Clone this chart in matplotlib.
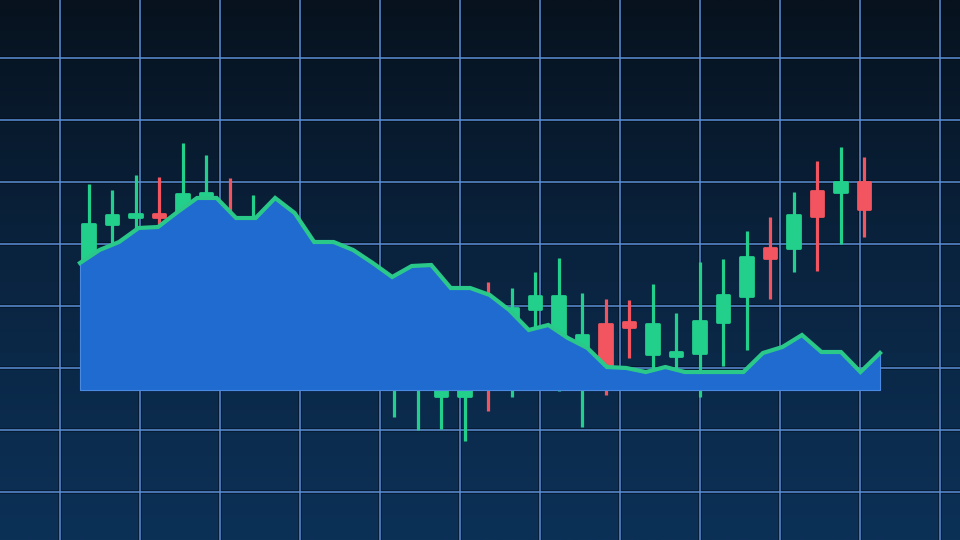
import matplotlib
matplotlib.use('Agg')
import matplotlib.pyplot as plt
import numpy as np
from matplotlib.colors import LinearSegmentedColormap

# Candles (price units), one per session
opens = [37.1, 43.2, 44.35, 44.84, 44.68, 47.42, 43.5, 41.0, 42.5, 41.0,
         37.5, 34.0, 33.0, 24.0, 20.0, 15.48, 15.48, 28.0, 26.0, 29.52,
         25.32, 22.9, 27.1, 27.42, 22.26, 21.94, 22.42, 27.42, 31.61, 39.35,
         39.35, 48.55, 48.39, 50.0]
closes = [43.23, 44.68, 44.84, 44.35, 48.06, 48.23, 41.0, 42.9, 44.0, 39.5,
          36.0, 36.5, 31.0, 28.0, 26.0, 22.0, 24.0, 22.0, 29.68, 31.61,
          31.61, 25.32, 20.16, 26.61, 27.1, 22.58, 27.58, 31.77, 37.9, 37.74,
          44.68, 44.52, 50.0, 45.65]
highs = [49.68, 48.71, 51.13, 50.81, 56.29, 54.35, 50.65, 47.9, 46.0, 43.0,
         39.5, 37.5, 35.5, 32.0, 31.0, 29.0, 30.0, 33.87, 32.9, 35.48,
         37.74, 32.1, 31.13, 30.97, 33.55, 28.87, 37.1, 37.58, 42.1, 44.35,
         48.39, 53.39, 55.65, 54.03]
lows = [36.13, 39.35, 41.9, 42.0, 41.0, 45.5, 38.5, 39.5, 39.0, 37.5,
        34.0, 31.0, 28.0, 12.1, 10.0, 10.16, 8.23, 13.06, 15.32, 24.0,
        16.29, 10.48, 15.65, 21.61, 19.0, 19.5, 15.32, 20.32, 22.9, 31.13,
        35.48, 35.65, 40.0, 41.13]

# Area / line series
area_vals = [36.94, 39.03, 40.32, 42.58, 42.74, 45.16, 47.42, 47.42, 44.19, 44.19,
             47.42, 45.0, 40.32, 40.32, 39.03, 36.94, 34.68, 36.45, 36.61, 32.9,
             32.9, 31.77, 29.35, 26.13, 26.94, 24.84, 23.23, 20.16, 20.0, 19.35,
             20.16, 19.35, 19.35, 19.35, 19.35, 22.42, 23.39, 25.32, 22.58, 22.58,
             19.35, 22.42]
area_base = 16.45

GREEN = '#22d08c'
RED = '#f2555f'
FILL = '#1f6bd0'
LINE = '#2ac98a'
GRID = '#5b90d8'

fig = plt.figure(figsize=(9.6, 5.4), dpi=100)
ax = fig.add_axes([0, 0, 1, 1])

# axis layout: candle i sits at index i
ax.set_xlim(-3.766, 37.085)
ax.set_ylim(-7.74, 79.35)

# background gradient
cmap = LinearSegmentedColormap.from_list('bg', ['#0c3157', '#0a2440', '#07121e'])
grad = np.linspace(0, 1, 256).reshape(-1, 1)
ax.imshow(grad, cmap=cmap, aspect='auto', extent=[0, 1, 0, 1],
          transform=ax.transAxes, origin='lower', zorder=0)

# grid
gx = -1.2128 + 3.4043 * np.arange(12)
gy = np.arange(0, 80, 10)
for x in gx:
    ax.axvline(x, color='#02060c', lw=2.6, alpha=0.5, zorder=1)
    ax.axvline(x, color=GRID, lw=1.1, zorder=1.1)
for y in gy:
    ax.axhline(y, color='#02060c', lw=2.6, alpha=0.5, zorder=1)
    ax.axhline(y, color=GRID, lw=1.1, zorder=1.1)

# candlesticks
idx = np.arange(len(opens))
for i in idx:
    up = closes[i] >= opens[i]
    c = GREEN if up else RED
    ax.vlines(i, lows[i], highs[i], color=c, lw=2.3, zorder=2)
    bot = min(opens[i], closes[i])
    h = max(abs(closes[i] - opens[i]), 0.45)
    ax.bar(i, h, bottom=bot, width=0.52, color=c, edgecolor=c, lw=2.0,
           joinstyle='round', zorder=2.2)

# area + line
ax_x = np.linspace(-0.3617, 33.681, len(area_vals))
ax.fill_between(ax_x, area_base, area_vals, color=FILL, lw=0, zorder=3)
ax.plot([ax_x[0], ax_x[0], ax_x[-1], ax_x[-1]],
        [area_vals[0], area_base, area_base, area_vals[-1]],
        color='#4a8ae0', lw=0.8, zorder=3.1)
ax.plot(ax_x, area_vals, color=LINE, lw=3.0, solid_joinstyle='miter', zorder=4)

ax.set_xticks([])
ax.set_yticks([])
for s in ax.spines.values():
    s.set_visible(False)

fig.savefig('out.png', dpi=100)
